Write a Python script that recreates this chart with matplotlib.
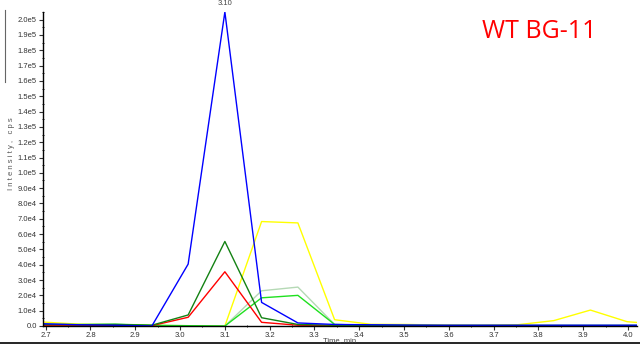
import matplotlib
matplotlib.use("Agg")
import matplotlib.pyplot as plt
from matplotlib.lines import Line2D
from matplotlib.ticker import FuncFormatter, MultipleLocator

plt.rcParams["font.family"] = ["Liberation Sans", "DejaVu Sans"]

times = [2.692, 2.774, 2.855, 2.937, 3.018, 3.100, 3.182, 3.263, 3.345,
         3.426, 3.508, 3.590, 3.671, 3.753, 3.834, 3.916, 3.998, 4.079]

yellow = [0.26, 0.12, 0.08, 0.03, 0.02, 0.0, 6.82, 6.73, 0.41, 0.11, 0.10,
          0.06, 0.05, 0.08, 0.35, 1.04, 0.28, 0.10]
light_green = [0.05, 0.04, 0.04, 0.02, 0.0, 0.0, 2.30, 2.54, 0.10, 0.05,
               0.04, 0.03, 0.03, 0.03, 0.03, 0.03, 0.03, 0.03]
bright_green = [0.10, 0.10, 0.12, 0.05, 0.02, 0.0, 1.84, 2.00, 0.10, 0.05,
                0.04, 0.03, 0.03, 0.03, 0.03, 0.03, 0.03, 0.03]
red = [0.05, 0.03, 0.03, 0.02, 0.57, 3.54, 0.24, 0.05, 0.02, 0.02, 0.02,
       0.02, 0.02, 0.02, 0.02, 0.02, 0.02, 0.02]
dark_green = [0.10, 0.08, 0.10, 0.05, 0.72, 5.52, 0.54, 0.10, 0.05, 0.03,
              0.03, 0.03, 0.03, 0.03, 0.03, 0.03, 0.03, 0.03]
blue = [0.15, 0.08, 0.05, 0.0, 4.04, 20.5, 1.54, 0.20, 0.10, 0.08, 0.06,
        0.05, 0.05, 0.05, 0.05, 0.05, 0.05, 0.05]

series = [
    (yellow, "#ffff00"),
    (light_green, "#b5d9b5"),
    (bright_green, "#1fe01f"),
    (red, "#ff0000"),
    (dark_green, "#148214"),
    (blue, "#0000ff"),
]

fig = plt.figure(figsize=(6.4, 3.45), dpi=100)
ax = fig.add_axes([43 / 640, 1 - 326 / 345, (637 - 43) / 640, (326 - 12) / 345])

for vals, col in series:
    ax.plot(times, [v * 1e4 for v in vals], color=col, lw=1.0)

ax.set_xlim(2.694, 4.02)
ax.set_ylim(0, 2.05e5)

ax.spines["top"].set_visible(False)
ax.spines["right"].set_visible(False)
for s in ("left", "bottom"):
    ax.spines[s].set_linewidth(1.0)

ax.xaxis.set_major_locator(MultipleLocator(0.1))
ax.xaxis.set_minor_locator(MultipleLocator(0.05))
ax.yaxis.set_major_locator(MultipleLocator(1e4))
ax.yaxis.set_minor_locator(MultipleLocator(5e3))


def yfmt(v, pos):
    if v == 0:
        return "0.0"
    if v < 1e5 - 1:
        return f"{v / 1e4:.1f}e4"
    return f"{v / 1e5:.1f}e5"


ax.yaxis.set_major_formatter(FuncFormatter(yfmt))
ax.xaxis.set_major_formatter(FuncFormatter(lambda v, p: f"{v:.1f}"))
ax.tick_params(axis="both", which="major", labelsize=5.5, length=3, width=0.8,
               pad=1.5, colors="#333333", labelcolor="#333333")
ax.tick_params(axis="both", which="minor", length=2, width=0.6, direction="inout")

ax.text(3.10, 2.05e5 + 3e3, "3.10", fontsize=5.5, color="#444444",
        ha="center", va="bottom", clip_on=False)

fig.text(12 / 640, 1 - 154 / 345, "I n t e n s i t y ,   c p s", rotation=90,
         fontsize=5.5, color="#555555", ha="center", va="center")
fig.text(340 / 640, 1 - 341 / 345, "Time, min", fontsize=5.5, color="#444444",
         ha="center", va="center")
fig.text(539 / 640, 1 - 32 / 345, "WT BG-11", fontsize=18, color="#ff0000",
         ha="center", va="center", family="Open Sans")

fig.add_artist(Line2D([0, 1], [1 - 343 / 345, 1 - 343 / 345], color="black", lw=1.2))
fig.add_artist(Line2D([5 / 640, 5 / 640], [1 - 10 / 345, 1 - 82 / 345], color="#666666", lw=0.8))

fig.savefig("out.png", dpi=100)
